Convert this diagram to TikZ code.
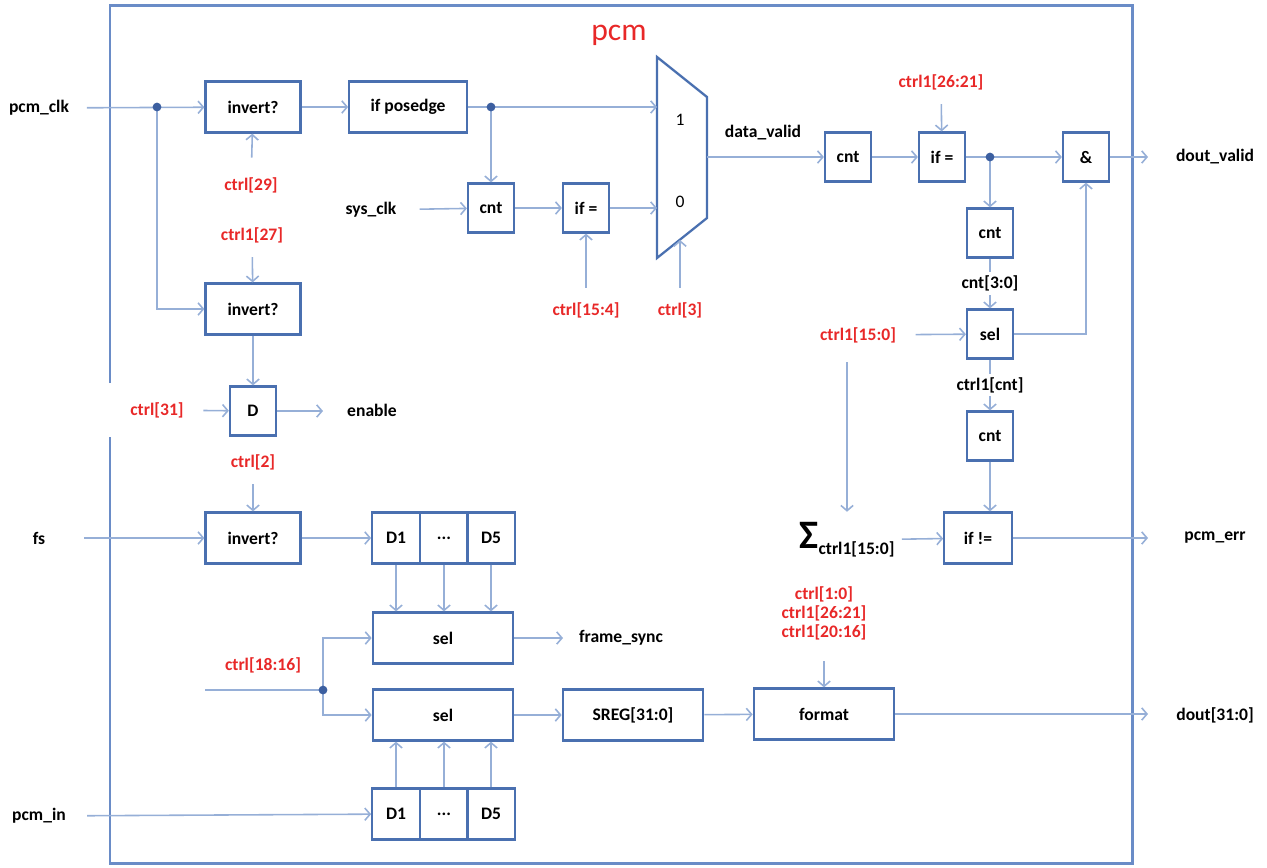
\documentclass[tikz,border=0pt]{standalone}
\usepackage{fontspec}
\setmainfont{Carlito}
\usetikzlibrary{arrows.meta}

\definecolor{boxblue}{RGB}{74,112,176}
\definecolor{frameblue}{RGB}{106,140,199}
\definecolor{wireblue}{RGB}{150,175,215}
\definecolor{dotblue}{RGB}{60,95,160}
\definecolor{ctlred}{RGB}{232,40,40}

\tikzset{
  box/.style={draw=boxblue, line width=1.3pt, minimum width=1.9cm, minimum height=1.02cm, inner sep=1pt},
  sbox/.style={box, minimum width=0.92cm, minimum height=0.98cm},
  cell/.style={box, minimum width=0.95cm},
  wbox/.style={box, minimum width=2.81cm},
  lbl/.style={inner sep=2pt},
  ctl/.style={lbl, text=ctlred},
  wire/.style={draw=wireblue, line width=0.9pt, -{Straight Barb[length=3pt,width=7pt]}},
  cwire/.style={wire, shorten <=6pt},
  bare/.style={draw=wireblue, line width=0.9pt},
  dot/.style={circle, fill=dotblue, inner sep=0pt, minimum size=5pt},
}

\begin{document}
\begin{tikzpicture}[x=0.02cm, y=-0.02cm, every node/.style={font=\bfseries}]
			\useasboundingbox (0,0) rectangle (1267,867);
			\draw[frameblue, line width=1.7pt] (110,383) -- (110,5) -- (1132,5) -- (1132,863) -- (110,863) -- (110,437);
			\node[text=ctlred, font=\fontsize{18}{18}\selectfont] (title) at (619,35) {pcm};
			\node[lbl] (pclk) at (39,108) {pcm\_clk};
			\node[lbl] (sclk) at (371,210) {sys\_clk};
			\node[lbl] (fs) at (39,538) {fs};
			\node[lbl] (pin) at (39,816) {pcm\_in};
			\node[box] (inv1) at (253,107) {invert?};
			\node[box, minimum width=2.35cm] (pe) at (408,107) {if posedge};
			\node[sbox] (cnt1) at (491,208) {cnt};
			\node[sbox] (eq1) at (586,208) {if =};
			\node[ctl] (c29) at (251,185) {ctrl[29]};
			\node[ctl] (c27) at (252,235) {ctrl1[27]};
			\node[ctl] (c154) at (586,310) {ctrl[15:4]};
			\node[ctl] (c3) at (680,310) {ctrl[3]};
			\draw[boxblue, line width=1.3pt] (657,57) -- (707,97) -- (707,218) -- (657,258) -- cycle;
			\node[font=\mdseries] (m1) at (680,120) {1};
			\node[font=\mdseries] (m0) at (680,202) {0};
			\coordinate (mi1) at (657,107);
			\coordinate (mi0) at (657,208);
			\coordinate (mo) at (707,157);
			\coordinate (ms) at (680,240);
			\node[lbl] (dv) at (763,133) {data\_valid};
			\node[sbox] (cnt2) at (848,157) {cnt};
			\node[sbox] (eq2) at (942,157) {if =};
			\node[sbox] (and) at (1086,157) {\&};
			\node[ctl] (c2621) at (941,82) {ctrl1[26:21]};
			\node[sbox] (cnt3) at (990,233) {cnt};
			\node[sbox] (sel3) at (990,334) {sel};
			\node[ctl] (c150) at (858,335) {ctrl1[15:0]};
			\node[sbox] (cnt4) at (990,436) {cnt};
			\node[box, minimum width=1.35cm] (ne) at (978,538) {if !=};
			\node[lbl] (sig) at (847,540) {{\fontsize{23}{23}\selectfont Σ}\raisebox{-0.7ex}{ctrl1[15:0]}};
			\node[box] (inv2) at (253,309) {invert?};
			\node[sbox] (dff) at (253,411) {D};
			\node[ctl] (c31) at (157,410) {ctrl[31]};
			\node[lbl] (en) at (372,410) {enable};
			\node[ctl] (c2) at (253,462) {ctrl[2]};
			\node[box] (inv3) at (253,538) {invert?};
			\node[cell] (s1a) at (396,538) {D1};
			\node[cell] (s1b) at (444,538) {...};
			\node[cell] (s1c) at (491,538) {D5};
			\node[wbox] (sel1) at (443,638) {sel};
			\node[lbl] (fsy) at (621,638) {frame\_sync};
			\node[ctl] (c1816) at (263,665) {ctrl[18:16]};
			\node[wbox] (sel2) at (443,715) {sel};
			\node[cell] (s2a) at (396,814) {D1};
			\node[cell] (s2b) at (444,814) {...};
			\node[cell] (s2c) at (491,814) {D5};
			\node[wbox] (sreg) at (633,715) {SREG[31:0]};
			\node[wbox] (fmt) at (824,714) {format};
			\node[ctl, align=center, font=\bfseries\linespread{0.9}\selectfont] (cfmt) at (824,613) {ctrl[1:0]\\ctrl1[26:21]\\ctrl1[20:16]};
			\node[lbl] (dvo) at (1215,157) {dout\_valid};
			\node[lbl] (err) at (1215,538) {pcm\_err};
			\node[lbl] (dout) at (1215,715) {dout[31:0]};
			\coordinate (j1) at (157,107);
			\coordinate (j2) at (491,107);
			\coordinate (j3) at (990,157);
			\coordinate (j4) at (323,690);
			\coordinate (c1816p) at (205,690);
			\coordinate (eno) at (323,411);
			\coordinate (fso) at (563,638);
			\coordinate (dvout) at (1148,157);
			\coordinate (errout) at (1148,538);
			\coordinate (dout1) at (1148,714);
			\draw[wire, shorten <=8pt] (pclk) -- (inv1); \draw[wire] (j1) |- (inv2);
			\draw[wire] (inv1) -- (pe); \draw[wire] (pe) -- (mi1); \draw[wire] (j2) -- (cnt1);
			\draw[wire, shorten <=11pt] (sclk) -- (cnt1); \draw[wire] (cnt1) -- (eq1); \draw[wire] (eq1) -- (mi0);
			\draw[cwire] (c154) -- (eq1); \draw[cwire] (c3) -- (ms);
			\draw[cwire, shorten <=9pt] (c29) -- (inv1); \draw[cwire] (c27) -- (inv2);
			\draw[wire] (mo) -- (cnt2); \draw[wire] (cnt2) -- (eq2); \draw[cwire] (c2621) -- (eq2);
			\draw[wire] (eq2) -- (and); \draw[wire] (and) -- (dvout); \draw[wire] (j3) -- (cnt3);
			\draw[wire] (cnt3) -- node[lbl, fill=white] (c30) {cnt[3:0]} (sel3);
			\draw[cwire, shorten <=9pt] (c150) -- (sel3); \draw[wire] (sel3) -| (and);
			\draw[wire] (sel3) -- node[lbl, fill=white] (c1cnt) {ctrl1[cnt]} (cnt4);
			\draw[wire] (cnt4) -- (cnt4 |- ne.north);
			\draw[wire, shorten <=9pt, shorten >=4pt] (sig |- c150.south) -- (sig);
			\draw[wire, shorten <=2pt] (sig) -- (ne); \draw[wire] (ne) -- (errout);
			\draw[wire] (inv2) -- (dff); \draw[cwire, shorten <=9pt] (c31) -- (dff); \draw[wire] (dff) -- (eno);
			\draw[cwire] (c2) -- (inv3); \draw[wire, shorten <=20pt] (fs) -- (inv3); \draw[wire] (inv3) -- (s1a);
			\draw[wire] (s1a) -- (s1a |- sel1.north); \draw[wire] (s1b) -- (s1b |- sel1.north); \draw[wire] (s1c) -- (s1c |- sel1.north);
			\draw[wire] (sel1) -- (fso);
			\draw[bare] (c1816p) -- (j4); \draw[wire] (j4) |- (sel1); \draw[wire] (j4) |- (sel2);
			\draw[wire] (s2a) -- (s2a |- sel2.south); \draw[wire] (s2b) -- (s2b |- sel2.south); \draw[wire] (s2c) -- (s2c |- sel2.south);
			\draw[wire, shorten <=10pt] (pin) -- (s2a);
			\draw[wire] (sel2) -- (sreg); \draw[wire] (sreg) -- (fmt);
			\draw[cwire, shorten <=10pt] (cfmt) -- (fmt); \draw[wire] (fmt) -- (dout1);
			\node[dot] at (j1) {}; \node[dot] at (j2) {}; \node[dot] at (j3) {}; \node[dot] at (j4) {};
		\end{tikzpicture}
\end{document}
